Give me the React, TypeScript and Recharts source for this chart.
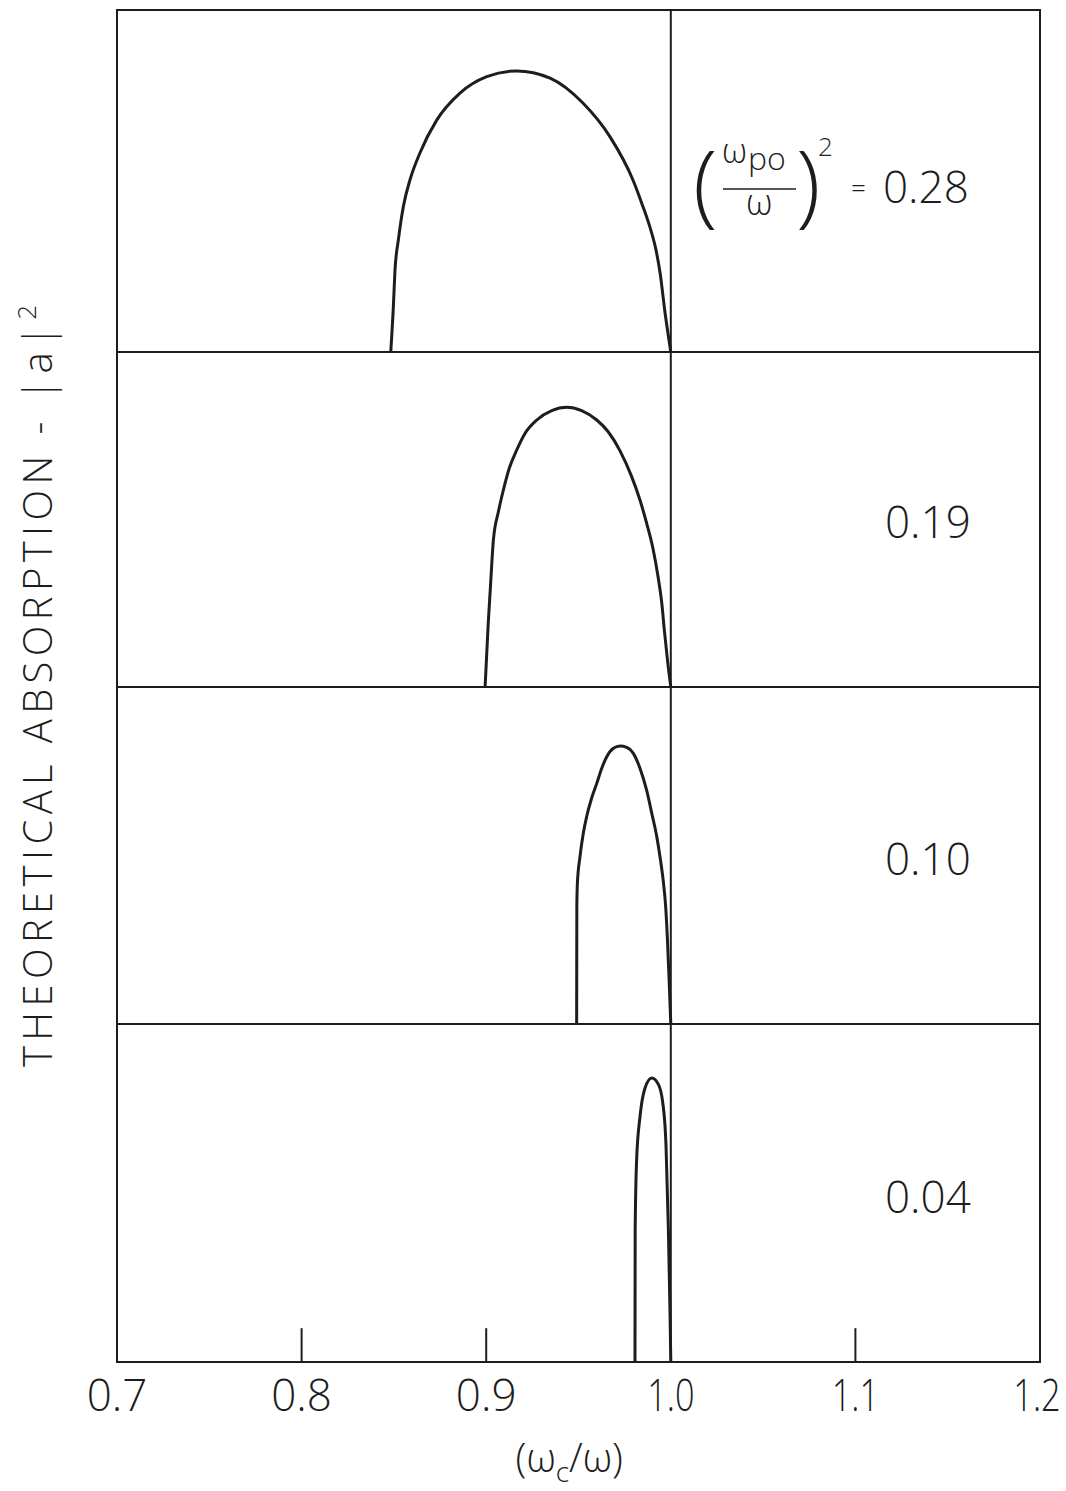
import { Label, Line, LineChart, ReferenceArea, ReferenceLine, XAxis, YAxis } from 'recharts';

// x = (omega_c / omega), y = |a|^2 normalised to each panel's height
const X_TICKS = [0.7, 0.8, 0.9, 1.0, 1.1, 1.2];
const INNER_TICKS = [0.8, 0.9, 1.1];

const ratio28X = [0.8483, 0.8497, 0.8506, 0.8524, 0.8551, 0.8587, 0.8641, 0.8732, 0.8858, 0.9003, 0.9165, 0.9346, 0.9524, 0.9671, 0.9795, 0.9842, 0.9887, 0.992, 0.9942, 0.9969, 1.0];
const ratio28Y = [0, 0.132, 0.24, 0.327, 0.425, 0.503, 0.582, 0.678, 0.757, 0.805, 0.822, 0.801, 0.728, 0.629, 0.503, 0.436, 0.365, 0.298, 0.231, 0.114, 0];

const ratio19X = [0.8994, 0.9011, 0.9022, 0.9039, 0.9066, 0.9093, 0.9125, 0.9165, 0.921, 0.9274, 0.9355, 0.9436, 0.9517, 0.9599, 0.9661, 0.9725, 0.9788, 0.9833, 0.9869, 0.9905, 0.9931, 0.9951, 0.9965, 0.9982, 1.0];
const ratio19Y = [0, 0.19, 0.29, 0.439, 0.523, 0.588, 0.653, 0.707, 0.757, 0.797, 0.825, 0.835, 0.825, 0.797, 0.762, 0.705, 0.628, 0.558, 0.489, 0.409, 0.329, 0.251, 0.17, 0.08, 0];

const ratio10X = [0.949, 0.9491, 0.9494, 0.9508, 0.9526, 0.9544, 0.9571, 0.9599, 0.9626, 0.9653, 0.9689, 0.9725, 0.9761, 0.9797, 0.9833, 0.9869, 0.9897, 0.9924, 0.9944, 0.996, 0.9972, 0.9981, 0.9991, 1.0];
const ratio10Y = [0, 0.348, 0.418, 0.496, 0.566, 0.615, 0.67, 0.714, 0.759, 0.793, 0.818, 0.825, 0.821, 0.803, 0.759, 0.694, 0.625, 0.556, 0.487, 0.42, 0.35, 0.26, 0.13, 0];

const ratio04X = [0.9806, 0.9807, 0.9815, 0.9833, 0.986, 0.9897, 0.9932, 0.9956, 0.9974, 0.9987, 0.9996, 1.0];
const ratio04Y = [0, 0.39, 0.6, 0.725, 0.81, 0.84, 0.822, 0.769, 0.642, 0.39, 0.139, 0];

const panels = [
  { xs: ratio28X, ys: ratio28Y },
  { xs: ratio19X, ys: ratio19Y },
  { xs: ratio10X, ys: ratio10Y },
  { xs: ratio04X, ys: ratio04Y },
];

const FONT = '"Open Sans", "DejaVu Sans", sans-serif';
const INK = '#1d1d1d';

// page layout (px)
const LEFT = 117;
const RIGHT = 1040;
const SIDE_L = 40;
const SIDE_R = 25;
const PANEL_TOPS = [10, 352, 687, 1024];
const PANEL_HEIGHTS = [342, 335, 337, 338];
const AXIS_H = 130;

function XTick(props: any) {
  const { x, y, payload } = props;
  const label = Number(payload.value).toFixed(1);
  // the lettering's "1" is a bare stroke, so those labels run narrower
  const sx = label.startsWith('1') ? 0.78 : 1;
  const edge = payload.value >= 1.2 ? -3 : 0;
  return (
    <text
      transform={`translate(${x + edge} ${y}) scale(${sx} 1)`}
      x={0}
      y={0}
      dy="0.71em"
      textAnchor="middle"
      fontFamily={FONT}
      fontWeight={300}
      fontSize={44}
      fill={INK}
    >
      {label}
    </text>
  );
}

function XTitle(props: any) {
  const vb = props.viewBox || { x: 0, y: 0, width: 0 };
  const cx = vb.x + vb.width * 0.49;
  const base = vb.y + 110;
  return (
    <text x={cx} y={base} textAnchor="middle" fontFamily={FONT} fontWeight={300} fontSize={40} fill={INK}>
      (ω
      <tspan dy={10} fontSize={28}>c</tspan>
      <tspan dy={-10}>/ω)</tspan>
    </text>
  );
}

function Panel({ xs, ys, top, height, last }: { xs: number[]; ys: number[]; top: number; height: number; last: boolean }) {
  const data = xs.map((x, i) => ({ x, y: ys[i] }));
  return (
    <div style={{ position: 'absolute', left: LEFT - SIDE_L, top: top - 1 }}>
      <LineChart
        width={RIGHT - LEFT + SIDE_L + SIDE_R}
        height={height + 2 + (last ? AXIS_H : 0)}
        data={data}
        margin={{ top: 1, right: SIDE_R, left: SIDE_L, bottom: 1 }}
      >
        <XAxis
          type="number"
          dataKey="x"
          domain={[0.7, 1.2]}
          ticks={X_TICKS}
          interval={0}
          allowDataOverflow
          hide={!last}
          height={last ? AXIS_H : 0}
          axisLine={false}
          tickLine={false}
          tickSize={0}
          tickMargin={18}
          tick={<XTick />}
        >
          {last && <Label content={XTitle} />}
        </XAxis>
        <YAxis type="number" domain={[0, 1]} hide allowDataOverflow />
        <ReferenceArea x1={0.7} x2={1.2} y1={0} y2={1} fill="none" fillOpacity={0} stroke={INK} strokeWidth={2} ifOverflow="visible" />
        <ReferenceLine x={1} stroke={INK} strokeWidth={2} />
        {last &&
          INNER_TICKS.map((t) => (
            <ReferenceLine key={t} segment={[{ x: t, y: 0 }, { x: t, y: 0.1 }]} stroke={INK} strokeWidth={2} />
          ))}
        <Line type="monotone" dataKey="y" stroke={INK} strokeWidth={3} dot={false} isAnimationActive={false} />
      </LineChart>
    </div>
  );
}

const labelStyle = { fontFamily: FONT, fontWeight: 300, fill: INK } as const;

export default function App() {
  return (
    <div style={{ position: 'absolute', left: 0, top: 0, width: 1066, height: 1491, background: '#fff', overflow: 'hidden' }}>
      {panels.map((p, i) => (
        <Panel key={i} xs={p.xs} ys={p.ys} top={PANEL_TOPS[i]} height={PANEL_HEIGHTS[i]} last={i === panels.length - 1} />
      ))}
      <svg width={1066} height={1491} style={{ position: 'absolute', left: 0, top: 0, pointerEvents: 'none' }}>
        <text
          transform="translate(52 686) rotate(-90)"
          textAnchor="middle"
          fontSize={40}
          textLength={762}
          lengthAdjust="spacing"
          {...labelStyle}
        >
          THEORETICAL ABSORPTION - |a|
          <tspan dy={-16} fontSize={26}>2</tspan>
        </text>

        {/* (omega_po / omega)^2 = 0.28 */}
        <text x={693} y={216} fontSize={90} fontWeight={200} fontFamily={FONT} fill={INK}>(</text>
        <text x={722} y={163} fontSize={34} {...labelStyle}>ω</text>
        <text x={748} y={170} fontSize={32} {...labelStyle}>po</text>
        <line x1={723} x2={796} y1={189} y2={189} stroke={INK} strokeWidth={1.5} />
        <text x={746} y={215} fontSize={36} {...labelStyle}>ω</text>
        <text x={796} y={216} fontSize={90} fontWeight={200} fontFamily={FONT} fill={INK}>)</text>
        <text x={818} y={156} fontSize={26} {...labelStyle}>2</text>
        <text x={851} y={197} fontSize={26} {...labelStyle}>=</text>
        <text x={883} y={203} fontSize={44} {...labelStyle}>0.28</text>

        <text x={885} y={538} fontSize={44} {...labelStyle}>0.19</text>
        <text x={885} y={875} fontSize={44} {...labelStyle}>0.10</text>
        <text x={885} y={1213} fontSize={44} {...labelStyle}>0.04</text>
      </svg>
    </div>
  );
}
